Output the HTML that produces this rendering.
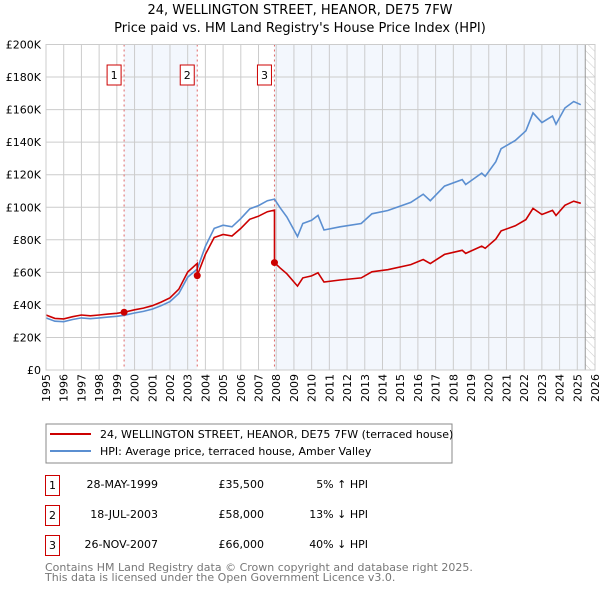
<!DOCTYPE html>
<html><head><meta charset="utf-8"><style>
body{margin:0;background:#fff;font-family:"DejaVu Sans","Liberation Sans",sans-serif}
svg text{font-family:"DejaVu Sans","Liberation Sans",sans-serif}
</style></head><body>
<svg id="c" width="600" height="590" xmlns="http://www.w3.org/2000/svg">
<defs><pattern id="hatch" width="6" height="6" patternUnits="userSpaceOnUse" patternTransform="rotate(-45)"><line x1="0" y1="0" x2="0" y2="6" stroke="#ccc" stroke-width="1"/></pattern></defs>
<text x="300" y="14" text-anchor="middle" font-size="13">24, WELLINGTON STREET, HEANOR, DE75 7FW</text>
<text x="300" y="32" text-anchor="middle" font-size="13">Price paid vs. HM Land Registry's House Price Index (HPI)</text>
<g id="plot"></g>
<rect x="46" y="424" width="406" height="39" fill="#fff" stroke="#888"/>
<line x1="50" y1="434" x2="91" y2="434" stroke="#cc0000" stroke-width="2"/>
<text x="100" y="438" font-size="11">24, WELLINGTON STREET, HEANOR, DE75 7FW (terraced house)</text>
<line x1="50" y1="451" x2="91" y2="451" stroke="#5b8fd1" stroke-width="2"/>
<text x="100" y="455" font-size="11">HPI: Average price, terraced house, Amber Valley</text>
<g font-size="11">
<rect x="45.5" y="475.5" width="14" height="20" fill="none" stroke="#cc0000"/><text x="52.5" y="489" text-anchor="middle">1</text>
<text x="158" y="488" text-anchor="end">28-MAY-1999</text><text x="264" y="488" text-anchor="end">£35,500</text><text x="368" y="488" text-anchor="end">5% ↑ HPI</text>
<rect x="45.5" y="505.5" width="14" height="20" fill="none" stroke="#cc0000"/><text x="52.5" y="519" text-anchor="middle">2</text>
<text x="158" y="518" text-anchor="end">18-JUL-2003</text><text x="264" y="518" text-anchor="end">£58,000</text><text x="368" y="518" text-anchor="end">13% ↓ HPI</text>
<rect x="45.5" y="535.5" width="14" height="20" fill="none" stroke="#cc0000"/><text x="52.5" y="549" text-anchor="middle">3</text>
<text x="158" y="548" text-anchor="end">26-NOV-2007</text><text x="264" y="548" text-anchor="end">£66,000</text><text x="368" y="548" text-anchor="end">40% ↓ HPI</text>
</g>
<text x="45" y="571" font-size="11" fill="#777">Contains HM Land Registry data © Crown copyright and database right 2025.</text>
<text x="45" y="581" font-size="11" fill="#777">This data is licensed under the Open Government Licence v3.0.</text>
</svg>
<script>
const hpiYears=[1995.0,1995.5,1996.0,1996.5,1997.0,1997.5,1998.0,1998.5,1999.0,1999.41,2000.0,2000.5,2001.0,2001.5,2002.0,2002.5,2003.0,2003.54,2004.0,2004.5,2005.0,2005.5,2006.0,2006.5,2007.0,2007.5,2007.9,2008.2,2008.6,2009.2,2009.5,2010.0,2010.36,2010.7,2011.6,2012.8,2013.4,2014.3,2015.6,2016.3,2016.7,2017.5,2018.5,2018.7,2019.6,2019.8,2020.4,2020.7,2021.5,2022.1,2022.5,2023.0,2023.6,2023.8,2024.3,2024.8,2025.2];
const hpiValues=[32000,30000,29700,31000,32000,31500,32000,32500,33000,33600,35000,36000,37400,39500,42000,47000,57000,62000,76000,87000,89000,88000,93000,99000,101000,104000,105000,100000,94000,82000,90000,92000,95000,86000,88000,90000,96000,98000,103000,108000,104000,113000,117000,114000,121000,119000,128000,136000,141000,147000,158000,152000,156000,151000,161000,165000,163000];
const saleYears=[1999.41,2003.54,2007.9];
const salePrices=[35500,58000,66000];
const yTicks=[0,20000,40000,60000,80000,100000,120000,140000,160000,180000,200000];
const yTickLabels=["£0","£20K","£40K","£60K","£80K","£100K","£120K","£140K","£160K","£180K","£200K"];
const xTicks=[1995,1996,1997,1998,1999,2000,2001,2002,2003,2004,2005,2006,2007,2008,2009,2010,2011,2012,2013,2014,2015,2016,2017,2018,2019,2020,2021,2022,2023,2024,2025,2026];
const NS="http://www.w3.org/2000/svg";
const L=46,R=595,T=44.5,B=370,x0=1995,x1=2026,yMax=200000,dataEnd=2025.45;
const X=y=>L+(y-x0)/(x1-x0)*(R-L);
const Y=v=>B-v/yMax*(B-T);
const g=document.getElementById('plot');
function mk(tag,attrs){const e=document.createElementNS(NS,tag);for(const k in attrs)e.setAttribute(k,attrs[k]);g.appendChild(e);return e;}
function hpiAt(t){for(let i=0;i<hpiYears.length-1;i++){if(t>=hpiYears[i]&&t<=hpiYears[i+1]){const f=(t-hpiYears[i])/(hpiYears[i+1]-hpiYears[i]);return hpiValues[i]+f*(hpiValues[i+1]-hpiValues[i]);}}return hpiValues[hpiValues.length-1];}
let bg=mk('rect',{x:X(saleYears[0]),y:T,width:X(saleYears[1])-X(saleYears[0]),height:B-T,fill:'#eef3fc',opacity:0.7});


let bg2=mk('rect',{x:X(saleYears[2]),y:T,width:X(dataEnd)-X(saleYears[2]),height:B-T,fill:'#eef3fc',opacity:0.7});


let ht=mk('rect',{x:X(dataEnd),y:T,width:R-X(dataEnd),height:B-T,fill:'url(#hatch)'});


yTicks.forEach((v,i)=>{
 const ln=mk('line',{x1:L,x2:R,y1:Y(v),y2:Y(v),stroke:'#ccc','stroke-width':1});
 
 
 const t=mk('text',{x:L-5,y:Y(v)+4,'text-anchor':'end','font-size':11});
 t.textContent=yTickLabels[i];
 
 
});
xTicks.forEach(v=>{
 const ln=mk('line',{x1:X(v),x2:X(v),y1:T,y2:B,stroke:'#ccc','stroke-width':1});
 
 
 const tx=X(v)+4, ty=B+4;
 const t=mk('text',{x:tx,y:ty,'text-anchor':'end','font-size':11,transform:'rotate(-90 '+tx+' '+ty+')'});
 t.textContent=v;
 
 
});
let ax=mk('line',{x1:X(dataEnd),x2:X(dataEnd),y1:T,y2:B,stroke:'#999','stroke-width':1});


saleYears.forEach((s,i)=>{
 const ln=mk('line',{x1:X(s),x2:X(s),y1:T,y2:B,stroke:'#e06666','stroke-width':1,'stroke-dasharray':'2,3'});
 
 
 const bx=mk('rect',{x:X(s)-17,y:65,width:14,height:20,fill:'#fff',stroke:'#cc0000'});
 
 
 const t=mk('text',{x:X(s)-10,y:79,'text-anchor':'middle','font-size':11});
 t.textContent=String(i+1);
 
 
});
const hp=hpiYears.map((y,i)=>X(y).toFixed(1)+','+Y(hpiValues[i]).toFixed(1)).join(' ');
let hl=mk('polyline',{points:hp,fill:'none',stroke:'#5b8fd1','stroke-width':1.6});


const rp=[];
hpiYears.forEach((y,i)=>{
 let k=0;for(let j=0;j<saleYears.length;j++)if(y>=saleYears[j])k=j;
 if(i>0){for(let j=1;j<saleYears.length;j++){if(hpiYears[i-1]<saleYears[j]&&y>=saleYears[j]){
  rp.push([saleYears[j],salePrices[j-1]*hpiAt(saleYears[j])/hpiAt(saleYears[j-1])]);
  rp.push([saleYears[j],salePrices[j]]);}}}
 rp.push([y,salePrices[k]*hpiValues[i]/hpiAt(saleYears[k])]);
});
let rl=mk('polyline',{points:rp.map(p=>X(p[0]).toFixed(1)+','+Y(p[1]).toFixed(1)).join(' '),fill:'none',stroke:'#cc0000','stroke-width':1.6});


saleYears.forEach((s,i)=>{
 const c=mk('circle',{cx:X(s),cy:Y(salePrices[i]),r:3.5,fill:'#cc0000'});
 
 
});
let fr=mk('rect',{x:L,y:T,width:R-L,height:B-T,fill:'none',stroke:'#ccc'});


</script>
</body></html>
